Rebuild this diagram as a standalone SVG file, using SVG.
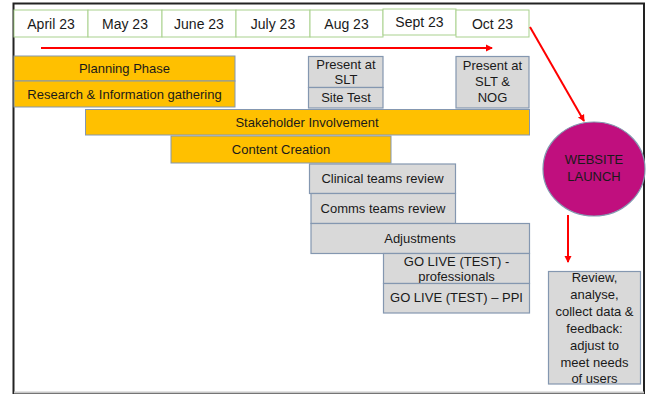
<svg xmlns="http://www.w3.org/2000/svg" width="652" height="394" viewBox="0 0 652 394">
<defs>
<style>
text{font-family:"Liberation Sans",Arial,sans-serif;fill:#1a1a1a;text-anchor:middle}
.m{font-size:14px}
.t{font-size:13px}
.month{fill:#fff;stroke:#a9d18e;stroke-width:1}
.gold{fill:#ffc000;stroke:#8497b0;stroke-width:1}
.grey{fill:#d9d9d9;stroke:#8497b0;stroke-width:1.2}
.red{stroke:#ff0000;stroke-width:2;fill:none}
</style>
<marker id="ah" markerWidth="8" markerHeight="8" refX="6" refY="4" orient="auto" markerUnits="userSpaceOnUse">
<path d="M0,0.5 L7,4 L0,7.5 Z" fill="#ff0000"/>
</marker>
</defs>
<rect x="0" y="0" width="652" height="394" fill="#fff"/>
<rect x="13.5" y="3.5" width="630.5" height="390" fill="#fff" stroke="#222" stroke-width="2"/>
<line x1="14" y1="392.5" x2="644" y2="392.5" stroke="#c8c8c8" stroke-width="2"/>

<g id="months">
<g id="m-apr"><rect class="month" x="14" y="10" width="74" height="27"/><text class="m" x="51" y="29">April 23</text></g>
<g id="m-may"><rect class="month" x="88" y="10" width="74" height="27"/><text class="m" x="125" y="29">May 23</text></g>
<g id="m-jun"><rect class="month" x="162" y="10" width="74" height="27"/><text class="m" x="199" y="29">June 23</text></g>
<g id="m-jul"><rect class="month" x="236" y="10" width="74" height="27"/><text class="m" x="273" y="29">July 23</text></g>
<g id="m-aug"><rect class="month" x="310" y="10" width="73" height="27"/><text class="m" x="346.5" y="29">Aug 23</text></g>
<g id="m-sep"><rect class="month" x="383" y="9" width="73" height="26"/><text class="m" x="419.5" y="27">Sept 23</text></g>
<g id="m-oct"><rect class="month" x="456" y="10" width="73" height="27"/><text class="m" x="492.5" y="29">Oct 23</text></g>
</g>

<g id="planning"><rect class="gold" x="14" y="56" width="221" height="25"/><text class="t" x="124.5" y="73">Planning Phase</text></g>
<g id="research"><rect class="gold" x="14" y="81" width="221" height="26"/><text class="t" x="124.5" y="99">Research &amp; Information gathering</text></g>
<g id="present-slt"><rect class="grey" x="308.5" y="56.5" width="74.5" height="31"/><text class="t" x="346" y="69">Present at</text><text class="t" x="346" y="84">SLT</text></g>
<g id="site-test"><rect class="grey" x="308.5" y="87.5" width="74.5" height="20.5"/><text class="t" x="346" y="102">Site Test</text></g>
<g id="present-nog"><rect class="grey" x="456" y="56.5" width="73" height="51.5"/><text class="t" x="492.5" y="70">Present at</text><text class="t" x="492.5" y="86">SLT &amp;</text><text class="t" x="492.5" y="102">NOG</text></g>
<g id="stakeholder"><rect class="gold" x="85.5" y="109.5" width="444" height="25.5"/><text class="t" x="307" y="127">Stakeholder Involvement</text></g>
<g id="content"><rect class="gold" x="171" y="136" width="220" height="27"/><text class="t" x="281" y="154">Content Creation</text></g>
<g id="clinical"><rect class="grey" x="309.5" y="164" width="146" height="29.5"/><text class="t" x="382.5" y="183">Clinical teams review</text></g>
<g id="comms"><rect class="grey" x="311" y="193.5" width="144.5" height="30"/><text class="t" x="383" y="213">Comms teams review</text></g>
<g id="adjust"><rect class="grey" x="311" y="223.5" width="218.5" height="30"/><text class="t" x="420" y="243">Adjustments</text></g>
<g id="golive-pro"><rect class="grey" x="383.5" y="253.5" width="146" height="30"/><text class="t" x="456.5" y="266">GO LIVE (TEST) -</text><text class="t" x="456.5" y="281">professionals</text></g>
<g id="golive-ppi"><rect class="grey" x="383.5" y="283.5" width="146" height="29.5"/><text class="t" x="456.5" y="302">GO LIVE (TEST) – PPI</text></g>
<g id="launch"><ellipse cx="594" cy="169" rx="51" ry="47" fill="#c00f7e" stroke="#8497b0" stroke-width="1.2"/><text class="t" x="594" y="164">WEBSITE</text><text class="t" x="594" y="181">LAUNCH</text></g>
<g id="review"><rect class="grey" x="548.5" y="271.5" width="92" height="112.5"/>
<text class="t" x="594.5" y="282">Review,</text>
<text class="t" x="594.5" y="299">analyse,</text>
<text class="t" x="594.5" y="316">collect data &amp;</text>
<text class="t" x="594.5" y="333">feedback:</text>
<text class="t" x="594.5" y="350">adjust to</text>
<text class="t" x="594.5" y="367">meet needs</text>
<text class="t" x="594.5" y="383">of users</text></g>

<g id="connectors">
<line class="red" x1="41" y1="48" x2="492" y2="48" marker-end="url(#ah)"/>
<line class="red" x1="530" y1="27" x2="584" y2="121" marker-end="url(#ah)"/>
<line class="red" x1="568" y1="215" x2="568" y2="262" marker-end="url(#ah)"/>
</g>
</svg>
